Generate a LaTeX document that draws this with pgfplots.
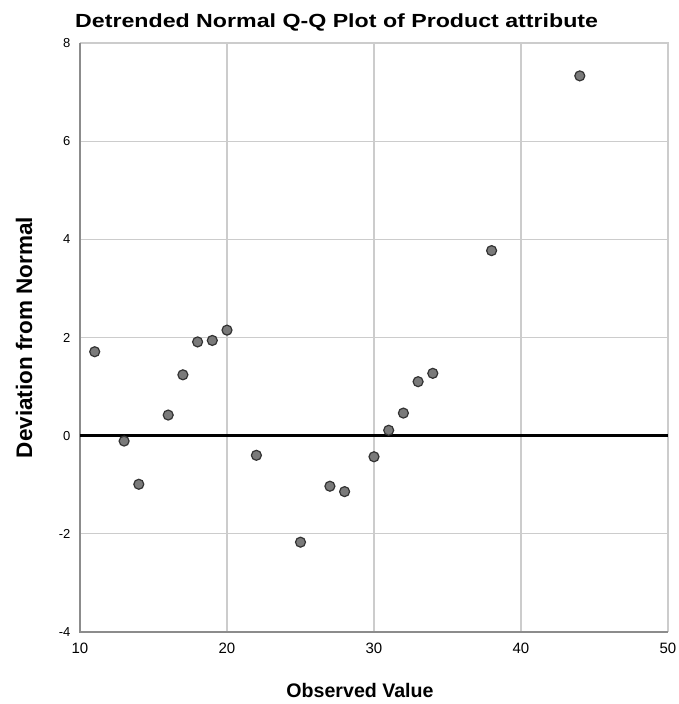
\documentclass[border=0pt]{standalone}
\usepackage{fontspec}
\setmainfont{Liberation Sans}
\newfontfamily\titlefont[FakeStretch=1.22]{Liberation Sans}
\usepackage{pgfplots}
\pgfplotsset{compat=1.18}
\definecolor{gridc}{HTML}{CCCCCC}
\definecolor{axc}{HTML}{8C8C8C}
\definecolor{mk}{HTML}{7A7A7A}
\begin{document}
\begin{tikzpicture}[x=1pt,y=1pt]
\path[use as bounding box] (-80,-72) rectangle (599,632);
\begin{axis}[
  at={(0,0)}, anchor=south west,
  scale only axis, width=588pt, height=589pt,
  xmin=10, xmax=50, ymin=-4, ymax=8,
  xtick={10,20,30,40,50}, ytick={-4,-2,0,2,4,6,8},
  major tick length=0pt,
  grid=major,
  major grid style={gridc, line width=1.2pt},
  axis line style={draw=none},
  /pgf/number format/assume math mode=true,
  xticklabel style={font=\fontsize{15}{17}\selectfont, yshift=-7pt},
  yticklabel style={font=\fontsize{13}{15}\selectfont, xshift=-6pt},
  title={Detrended Normal Q-Q Plot of Product attribute},
  title style={at={(rel axis cs:0,1)}, anchor=base west, inner sep=0pt, xshift=-5pt, yshift=9pt, font=\titlefont\bfseries\fontsize{19}{22}\selectfont},
  xlabel={Observed Value},
  xlabel style={at={(rel axis cs:0.5,0)}, anchor=center, xshift=-14pt, yshift=-58pt, font=\bfseries\fontsize{19.6}{22}\selectfont},
  clip=false,
]
\draw[gridc, line width=1.2pt] (rel axis cs:0,1) -- (rel axis cs:1,1) -- (rel axis cs:1,0);
\draw[axc, line width=1.3pt] (rel axis cs:0,1) -- (rel axis cs:0,0) -- (rel axis cs:1,0);
\node[rotate=90, anchor=center, inner sep=0pt, font=\bfseries\fontsize{22.5}{25}\selectfont] at ([xshift=-56pt]rel axis cs:0,0.5) {Deviation from Normal};
\addplot[black, line width=3.5pt, forget plot] coordinates {(10,0) (50,0)};
\addplot[only marks, mark=*, mark size=5pt, mark options={fill=mk, draw=black!80, line width=1.2pt}] coordinates {
(11,1.71) (13,-0.11) (14,-0.99) (16,0.42) (17,1.24) (18,1.91) (19,1.94) (20,2.15)
(22,-0.40) (25,-2.17) (27,-1.03) (28,-1.14) (30,-0.43) (31,0.11) (32,0.46) (33,1.10)
(34,1.27) (38,3.77) (44,7.33)
};
\end{axis}
\end{tikzpicture}
\end{document}
